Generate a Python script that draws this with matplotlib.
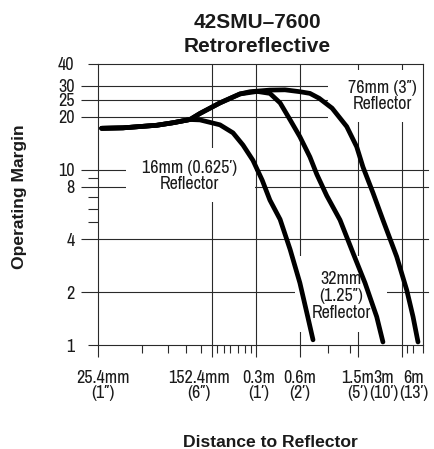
import matplotlib

matplotlib.use("Agg")

import matplotlib.pyplot as plt
from matplotlib import font_manager
from matplotlib.patches import Rectangle
from matplotlib.ticker import FixedFormatter, FixedLocator, NullFormatter

# distance in inches, operating margin (x)
dist_16mm = [1.05, 1.47, 2.51, 3.24, 4.23, 4.95, 6.78, 8.33, 9.75, 11.4, 13.2,
             14.9, 17.5, 20.5, 23.9, 27.1, 29.4]
margin_16mm = [17.2, 17.3, 17.9, 18.5, 19.3, 19.2, 18.0, 16.2, 13.8, 11.3, 8.7,
               6.7, 5.2, 3.5, 2.26, 1.44, 1.07]

dist_32mm = [1.05, 1.47, 2.51, 3.24, 4.23, 4.95, 6.78, 9.30, 12.2, 14.9, 17.5,
             20.5, 23.9, 28.0, 31.2, 36.5, 45.0, 55.2, 66.7, 80.2, 88.5]
margin_32mm = [17.2, 17.3, 17.9, 18.5, 19.3, 20.9, 24.0, 27.0, 27.9, 27.2, 24.0,
               19.2, 15.4, 11.8, 9.4, 7.1, 5.16, 3.35, 2.26, 1.45, 1.04]

dist_76mm = [1.05, 1.47, 2.51, 3.24, 4.23, 4.95, 6.78, 9.30, 10.9, 14.9, 18.9,
             23.9, 28.0, 32.4, 39.7, 50.0, 58.5, 64.6, 75.7, 88.5, 109.9, 128.7,
             142.2, 153.8]
margin_76mm = [17.2, 17.3, 17.9, 18.5, 19.3, 20.9, 24.0, 27.0, 27.8, 28.4, 28.5,
               27.8, 27.2, 25.5, 22.4, 17.6, 13.5, 10.35, 7.36, 5.16, 3.19, 2.06,
               1.45, 1.04]

margin_major = [2, 4, 8, 10, 20, 25, 30]
margin_major_labels = ["2", "4", "8", "10", "20", "25", "30"]
margin_minor = [1, 5, 6, 7, 9, 40]
margin_minor_labels = ["1", "", "", "", "", "40"]

dist_major = [1, 6, 12, 24, 60, 120]
dist_minor = [2, 3, 4, 5, 6.5, 7.2, 8, 9, 10, 11, 37, 53, 130, 143, 165.5]
dist_labels_metric = ["25.4mm", "152.4mm", "0.3m", "0.6m", "1.5m", "3m", "6m"]
dist_labels_imperial = ["(1\u2033)", "(6\u2033)", "(1\u2032)", "(2\u2032)",
                        "(5\u2032)", "(10\u2032)", "(13\u2032)"]
dist_label_pos = [0.014, 0.31, 0.495, 0.6215, 0.8004, 0.8806, 0.9732]

names = {f.name for f in font_manager.fontManager.ttflist}
NARROW = ["Archivo Narrow", "DejaVu Sans"] if "Archivo Narrow" in names else ["DejaVu Sans"]
BOLD = "Liberation Sans"
INK = "#1a1a1a"
GRID = "#2a2a2a"
FS = 13

fig = plt.figure(figsize=(4.35, 4.49), dpi=100)
ax = fig.add_axes([98.5 / 435, 1 - 345 / 449, 324.2 / 435, 281 / 449])
ax.set_xscale("log")
ax.set_yscale("log")
ax.set_xlim(1, 165.6)
ax.set_ylim(1, 40)

for spine in ax.spines.values():
    spine.set_linewidth(0.8)
    spine.set_color(GRID)

# grid
for d in dist_major[1:]:
    ax.axvline(d, color=GRID, lw=0.8, zorder=1)
for m in [30, 25, 20]:
    ax.axhline(m, xmin=0, xmax=0.708, color=GRID, lw=0.8, zorder=1)
for m in [10, 8, 4, 2]:
    ax.axhline(m, xmin=0, xmax=1.016, color=GRID, lw=0.8, zorder=1, clip_on=False)

# white label boxes hiding the grid
for x0, y0, w, h in [(0.0848, 0.509, 0.398, 0.192),
                     (0.708, 0.7936, 0.29, 0.185),
                     (0.606, 0.046, 0.284, 0.271)]:
    ax.add_patch(Rectangle((x0, y0), w, h, transform=ax.transAxes,
                           facecolor="white", edgecolor="none", zorder=1.5))

for d, m in [(dist_16mm, margin_16mm), (dist_32mm, margin_32mm), (dist_76mm, margin_76mm)]:
    ax.plot(d, m, color="black", lw=3.4, solid_capstyle="round",
            solid_joinstyle="round", zorder=3)

# ticks
ax.yaxis.set_major_locator(FixedLocator(margin_major))
ax.yaxis.set_major_formatter(FixedFormatter(margin_major_labels))
ax.yaxis.set_minor_locator(FixedLocator(margin_minor))
ax.yaxis.set_minor_formatter(FixedFormatter(margin_minor_labels))
ax.tick_params(axis="y", which="major", length=12.2, pad=5, width=0.8, color=GRID)
ax.tick_params(axis="y", which="minor", length=7.2, pad=10, width=0.8, color=GRID)

ax.xaxis.set_major_locator(FixedLocator(dist_major))
ax.xaxis.set_major_formatter(NullFormatter())
ax.xaxis.set_minor_locator(FixedLocator(dist_minor))
ax.xaxis.set_minor_formatter(NullFormatter())
ax.tick_params(axis="x", which="major", length=8.6, width=0.8, color=GRID)
ax.tick_params(axis="x", which="minor", length=5.8, width=0.8, color=GRID)

for label in ax.get_yticklabels(which="both"):
    label.set_fontfamily(NARROW)
    label.set_fontsize(FS)
    label.set_color(INK)

for pos, top, bottom in zip(dist_label_pos, dist_labels_metric, dist_labels_imperial):
    ax.text(pos, -0.1352, top, transform=ax.transAxes, ha="center", va="baseline",
            family=NARROW, fontsize=FS, color=INK)
    ax.text(pos, -0.1880, bottom, transform=ax.transAxes, ha="center", va="baseline",
            family=NARROW, fontsize=FS, color=INK)

# curve labels
label_kw = dict(transform=ax.transAxes, ha="center", va="center", family=NARROW,
                fontsize=FS, color=INK, linespacing=1.05, zorder=4)
ax.text(0.282, 0.601, "16mm (0.625\u2032)\nReflector", **label_kw)
ax.text(0.877, 0.886, "76mm (3\u2033)\nReflector", **label_kw)
ax.text(0.748, 0.174, "32mm\n(1.25\u2033)\nReflector", **label_kw)

fig.text(257.5 / 435, 1 - 28 / 449, "42SMU\u20137600", ha="center", va="baseline",
         family=BOLD, weight="bold", fontsize=15, color=INK)
fig.text(257.5 / 435, 1 - 52.5 / 449, "Retroreflective", ha="center", va="baseline",
         family=BOLD, weight="bold", fontsize=15, color=INK)
fig.text(270 / 435, 1 - 447 / 449, "Distance to Reflector", ha="center", va="baseline",
         family=BOLD, weight="bold", fontsize=12.6, color=INK)
fig.text(20 / 435, 1 - 197 / 449, "Operating Margin", ha="center", va="center",
         rotation=90, family=BOLD, weight="bold", fontsize=12.6, color=INK)

fig.savefig("out.png", dpi=100)
